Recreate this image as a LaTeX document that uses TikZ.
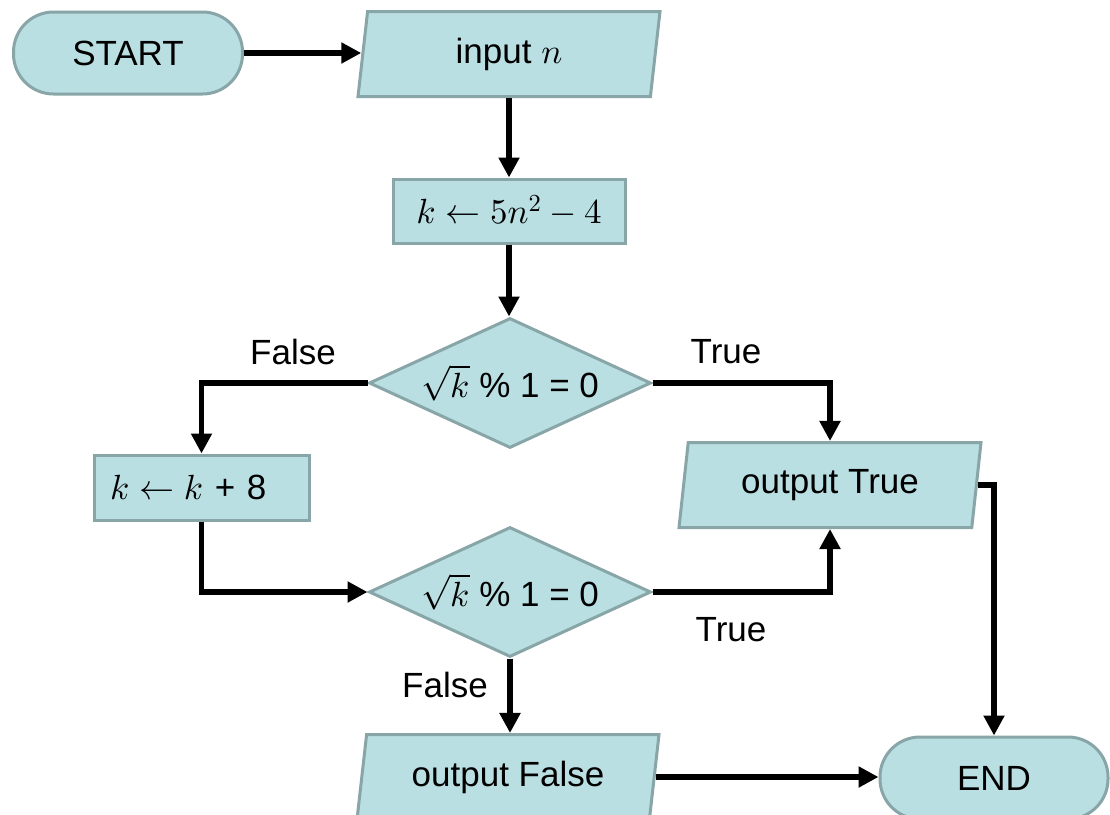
\documentclass[tikz,border=0pt]{standalone}
\usepackage{fontspec}
\setmainfont{Liberation Sans}
\DeclareFontShape{OML}{cmm}{m}{it}{<->cmmi10}{}
\DeclareFontShape{OMS}{cmsy}{m}{n}{<->cmsy10}{}
\DeclareFontShape{OMX}{cmex}{m}{n}{<->cmex10}{}
\DeclareFontShape{OT1}{cmr}{m}{n}{<->cmr10}{}
\usetikzlibrary{shapes.geometric,arrows.meta}
\definecolor{boxfill}{HTML}{B9DFE3}
\definecolor{boxline}{HTML}{88A5A8}
\tikzset{
  base/.style={fill=boxfill, draw=boxline, line width=3pt, inner sep=0pt,
    font=\fontsize{35}{42}\selectfont},
  term/.style={base, rectangle, rounded corners=40pt, minimum width=229pt, minimum height=82pt},
  proc/.style={base, rectangle, minimum height=64pt},
  io/.style={base, trapezium, trapezium left angle=73.6, trapezium right angle=106.4,
    trapezium stretches body, minimum width=302pt, minimum height=85pt},
  dec/.style={base, diamond, minimum width=282pt, minimum height=130pt, aspect=2.17},
  lbl/.style={font=\fontsize{35}{42}\selectfont, inner sep=0pt},
  flow/.style={line width=5.5pt, -{Triangle[length=20pt,width=20pt]}},
}
\begin{document}
\begin{tikzpicture}[x=1pt,y=-1pt]
\clip (0,0) rectangle (1110,814);
\fill[white] (0,0) rectangle (1110,814);
\node[term] (start) at (128,53) {START};
\node[io] (input) at (509,54) {input $n$};
\node[proc, minimum width=232pt] (init) at (509,211) {$k \leftarrow 5n^2 - 4$};
\node[dec] (d1) at (510,383) {$\sqrt{k}$ \% 1 = 0};
\node[proc, minimum width=215pt, minimum height=65pt, text width=183pt, align=left, inner xsep=16pt] (inc) at (201.5,487.5) {$k \leftarrow k$ + 8};
\node[dec] (d2) at (510,592) {$\sqrt{k}$ \% 1 = 0};
\node[io] (outT) at (830,485) {output True};
\node[io] (outF) at (508,777) {output False};
\node[term, minimum width=228pt] (end) at (994,778) {END};

\node[lbl] (lf1) at (293,352) {False};
\node[lbl] (lt1) at (726,352) {True};
\node[lbl] (lt2) at (731,630) {True};
\node[lbl] (lf2) at (445,685) {False};

\draw[flow] (start.east) -- (start.east -| input.west);
\draw[flow] (input.south) -- (input.south |- init.north);
\draw[flow] (init.south) -- (init.south |- d1.north);
\draw[flow] (d1.west) -| (inc.north);
\draw[flow] (d1.east) -| (outT.north);
\draw[flow] (inc.south) |- (d2.west);
\draw[flow] (d2.east) -| (outT.south);
\draw[flow] (d2.south) -- (d2.south |- outF.north);
\draw[flow] (outF.east) -- (outF.east -| end.west);
\draw[flow] (outT.east) -| (end.north);
\end{tikzpicture}
\end{document}
